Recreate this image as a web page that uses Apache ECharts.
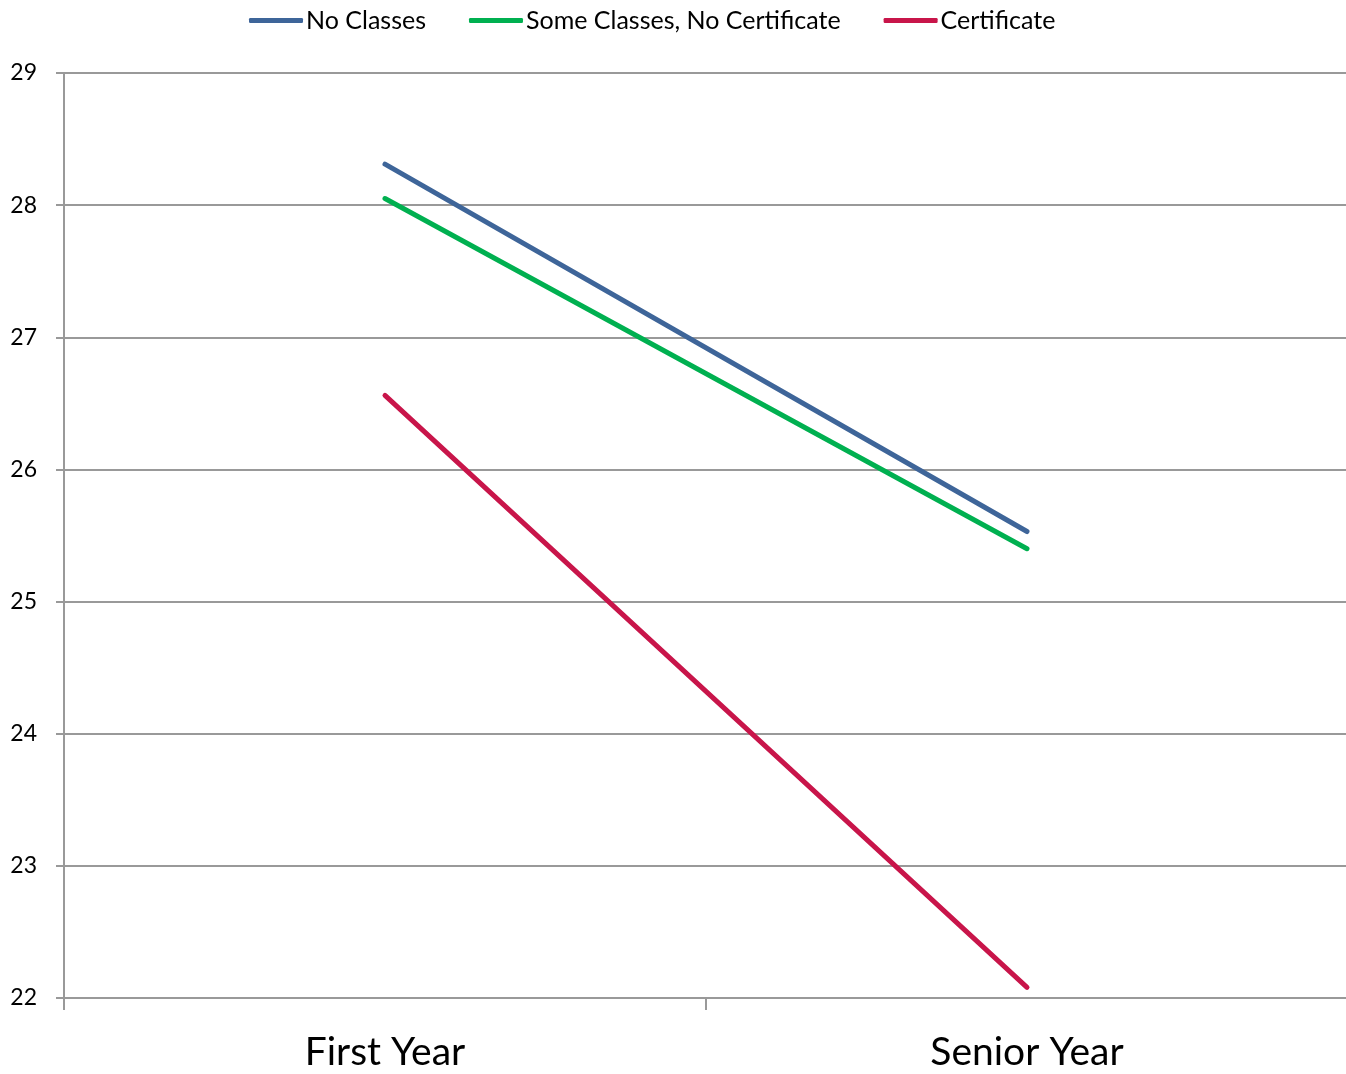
<!DOCTYPE html>
<html>
<head>
<meta charset="utf-8">
<script src="https://cdn.jsdelivr.net/npm/echarts@6/dist/echarts.min.js"></script>
<style>
  html, body { margin: 0; padding: 0; background: #fff; overflow: hidden; }
  #chart { width: 1352px; height: 1074px; }
</style>
</head>
<body>
<div id="chart"></div>
<script>
// Survey periods on the x axis
const periods = ['First Year', 'Senior Year'];

// Mean scores per group
const noClasses = [28.31, 25.53];
const someClasses = [28.05, 25.40];
const certificate = [26.56, 22.08];

// Value axis range
const yMin = 22;
const yMax = 29;
const yStep = 1;

const FONT = 'Lato, "Open Sans", sans-serif';

const chart = echarts.init(document.getElementById('chart'), null, { renderer: 'canvas' });

function lineSeries(name, data, color) {
  return {
    name: name,
    type: 'line',
    data: data,
    symbol: 'none',
    lineStyle: { width: 5, color: color, cap: 'round' },
    itemStyle: { color: color },
    animation: false
  };
}

chart.setOption({
  backgroundColor: '#ffffff',
  animation: false,
  textStyle: { fontFamily: FONT },
  legend: {
    top: 3,
    left: 244,
    itemWidth: 54,
    itemHeight: 5,
    itemGap: 43,
    icon: 'roundRect',
    textStyle: { fontSize: 25, color: '#000', fontFamily: FONT, padding: [0, 0, 0, -2] },
    data: ['No Classes', 'Some Classes, No Certificate', 'Certificate']
  },
  // the plot runs to the right edge of the page; its closing tick sits just past it
  grid: { left: 64, right: 4, top: 73, bottom: 76, containLabel: false },
  xAxis: {
    type: 'category',
    data: periods,
    boundaryGap: true,
    axisLine: { show: true, lineStyle: { color: '#999999', width: 2 } },
    axisTick: { show: true, length: 12, lineStyle: { color: '#999999', width: 2 } },
    axisLabel: { fontSize: 39, color: '#000', margin: 35, fontFamily: FONT },
    splitLine: { show: false }
  },
  yAxis: {
    type: 'value',
    min: yMin,
    max: yMax,
    interval: yStep,
    axisLine: { show: true, lineStyle: { color: '#999999', width: 2 } },
    axisTick: { show: true, length: 8, lineStyle: { color: '#999999', width: 2 } },
    axisLabel: { fontSize: 23, color: '#000', margin: 27, fontFamily: FONT },
    splitLine: { show: true, lineStyle: { color: '#999999', width: 2 } }
  },
  series: [
    lineSeries('No Classes', noClasses, '#3E6599'),
    lineSeries('Some Classes, No Certificate', someClasses, '#00B050'),
    lineSeries('Certificate', certificate, '#C8154A')
  ]
});
</script>
</body>
</html>
